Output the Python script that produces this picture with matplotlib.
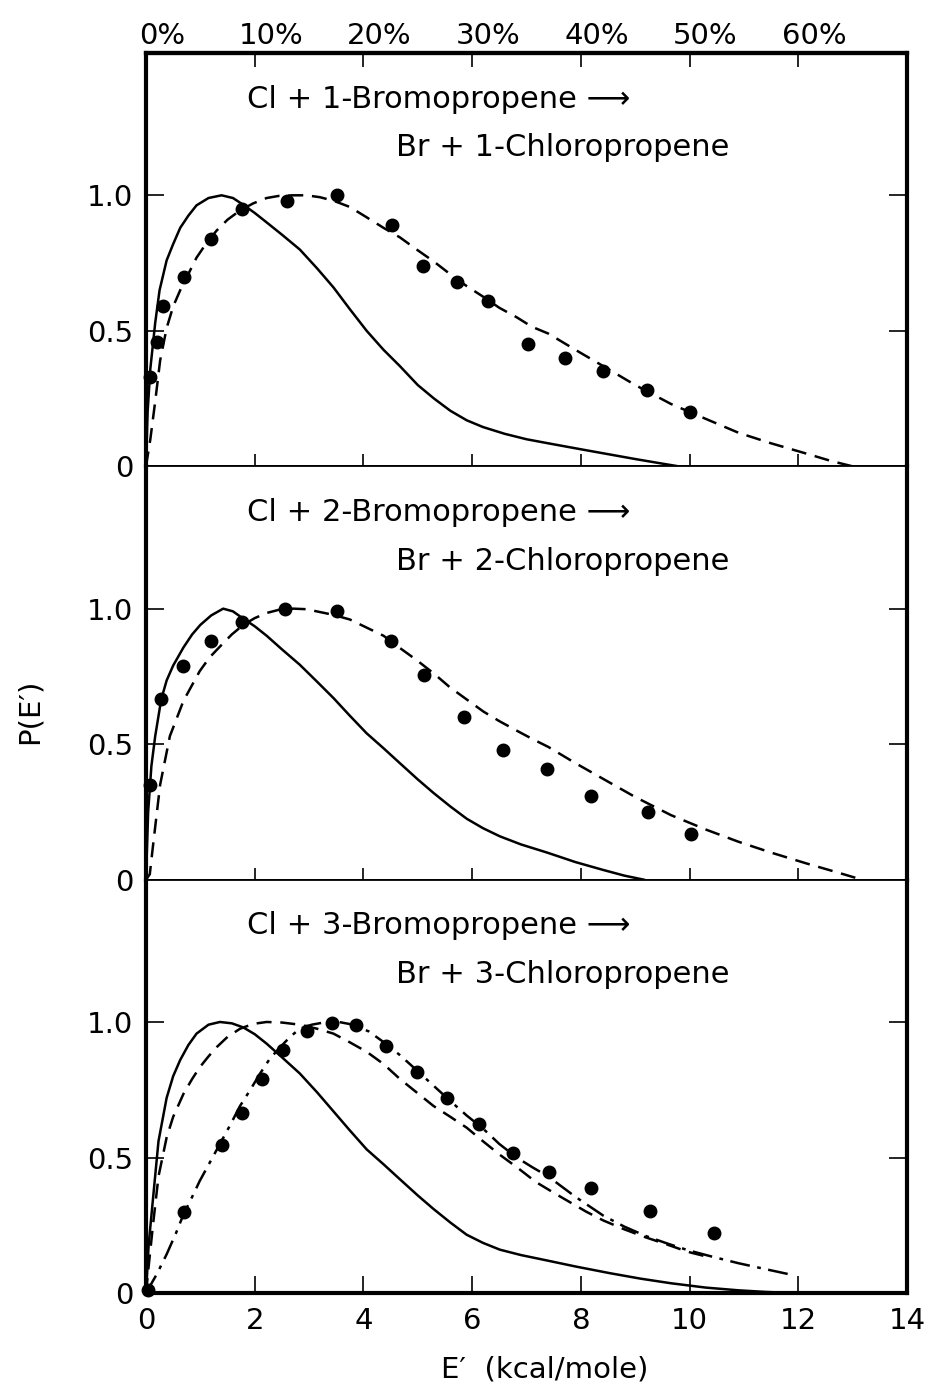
import matplotlib.pyplot as plt
from matplotlib.transforms import ScaledTranslation

# ---- data ----
# panel 1: Cl + 1-bromopropene
e1_pts = [0.07, 0.20, 0.32, 0.70, 1.19, 1.77, 2.59, 3.51, 4.52, 5.10, 5.73, 6.30, 7.03, 7.71, 8.40, 9.22, 10.01]
p1_pts = [0.33, 0.46, 0.59, 0.70, 0.84, 0.95, 0.98, 1.00, 0.89, 0.74, 0.68, 0.61, 0.45, 0.40, 0.35, 0.28, 0.20]
e1_solid = [0, 0.03, 0.08, 0.17, 0.25, 0.38, 0.5, 0.63, 0.78, 0.93, 1.15, 1.39, 1.6, 1.79, 2.0, 2.22, 2.5,
            2.83, 3.15, 3.45, 3.75, 4.06, 4.37, 4.67, 5.0, 5.3, 5.6, 5.9, 6.2, 6.6, 7.0, 7.4, 8.0, 8.5,
            9.0, 9.5, 9.8]
p1_solid = [0, 0.20, 0.36, 0.53, 0.65, 0.76, 0.82, 0.88, 0.925, 0.963, 0.99, 1.0, 0.99, 0.965, 0.935, 0.90,
            0.855, 0.80, 0.73, 0.66, 0.58, 0.50, 0.43, 0.37, 0.30, 0.25, 0.205, 0.17, 0.145, 0.12, 0.10,
            0.085, 0.063, 0.045, 0.027, 0.01, 0]
e1_dash = [0, 0.08, 0.17, 0.26, 0.38, 0.5, 0.63, 0.78, 0.93, 1.1, 1.30, 1.5, 1.73, 1.97, 2.22, 2.45, 2.7,
           2.95, 3.2, 3.45, 3.75, 4.05, 4.37, 4.67, 4.98, 5.3, 5.59, 5.9, 6.21, 6.5, 6.82, 7.1, 7.40, 7.9,
           8.41, 9.0, 9.66, 10.3, 10.9, 11.5, 12.15, 12.6, 13.0]
p1_dash = [0, 0.10, 0.24, 0.39, 0.51, 0.59, 0.65, 0.71, 0.77, 0.82, 0.87, 0.91, 0.944, 0.97, 0.99, 0.998,
           1.0, 1.0, 0.993, 0.98, 0.957, 0.92, 0.88, 0.845, 0.80, 0.755, 0.71, 0.665, 0.625, 0.585, 0.55,
           0.515, 0.49, 0.43, 0.37, 0.30, 0.23, 0.175, 0.124, 0.085, 0.047, 0.02, 0]

# panel 2: Cl + 2-bromopropene
e2_pts = [0.07, 0.28, 0.69, 1.20, 1.76, 2.55, 3.51, 4.51, 5.12, 5.85, 6.56, 7.37, 8.18, 9.24, 10.03]
p2_pts = [0.35, 0.665, 0.79, 0.88, 0.95, 1.0, 0.99, 0.88, 0.755, 0.60, 0.48, 0.41, 0.31, 0.25, 0.17]
e2_solid = [0, 0.04, 0.10, 0.17, 0.28, 0.38, 0.5, 0.69, 0.85, 1.0, 1.2, 1.42, 1.6, 1.79, 2.0, 2.22, 2.5,
            2.83, 3.15, 3.45, 3.75, 4.06, 4.37, 4.67, 5.0, 5.29, 5.6, 5.90, 6.2, 6.51, 6.9, 7.38, 7.9,
            8.41, 8.8, 9.16]
p2_solid = [0, 0.25, 0.42, 0.53, 0.665, 0.735, 0.79, 0.857, 0.905, 0.94, 0.975, 1.0, 0.99, 0.963, 0.935,
            0.90, 0.85, 0.793, 0.73, 0.67, 0.605, 0.54, 0.485, 0.43, 0.37, 0.32, 0.27, 0.225, 0.19, 0.16,
            0.13, 0.10, 0.065, 0.036, 0.015, 0]
e2_dash = [0, 0.07, 0.13, 0.26, 0.44, 0.69, 0.99, 1.17, 1.36, 1.58, 1.79, 2.0, 2.22, 2.45, 2.71, 2.95,
           3.14, 3.45, 3.75, 4.06, 4.37, 4.67, 4.98, 5.3, 5.59, 5.9, 6.21, 6.5, 6.82, 7.1, 7.40, 7.9, 8.41,
           9.0, 9.66, 10.3, 10.9, 11.5, 12.15, 12.7, 13.17]
p2_dash = [0, 0.02, 0.127, 0.35, 0.53, 0.66, 0.77, 0.82, 0.86, 0.905, 0.94, 0.965, 0.984, 0.996, 1.0,
           0.998, 0.99, 0.977, 0.96, 0.93, 0.90, 0.855, 0.81, 0.76, 0.71, 0.665, 0.62, 0.585, 0.55, 0.52,
           0.49, 0.43, 0.372, 0.305, 0.238, 0.185, 0.14, 0.10, 0.06, 0.028, 0]

# panel 3: Cl + 3-bromopropene
e3_pts = [0.03, 0.70, 1.40, 1.77, 2.13, 2.52, 2.96, 3.42, 3.86, 4.41, 4.98, 5.54, 6.13, 6.76, 7.42, 8.19, 9.27, 10.45]
p3_pts = [0.01, 0.30, 0.545, 0.665, 0.79, 0.895, 0.965, 0.997, 0.988, 0.91, 0.815, 0.72, 0.625, 0.518, 0.445, 0.388, 0.302, 0.222]
e3_solid = [0, 0.05, 0.13, 0.23, 0.38, 0.5, 0.63, 0.78, 0.93, 1.15, 1.36, 1.58, 1.79, 2.0, 2.22, 2.5, 2.83,
            3.15, 3.45, 3.75, 4.06, 4.37, 4.67, 5.0, 5.29, 5.6, 5.90, 6.2, 6.51, 6.9, 7.38, 7.9, 8.54, 9.1,
            9.66, 10.3, 10.9, 11.4, 11.9]
p3_solid = [0, 0.18, 0.35, 0.56, 0.72, 0.80, 0.86, 0.915, 0.957, 0.99, 1.0, 0.995, 0.98, 0.955, 0.92, 0.87,
            0.81, 0.74, 0.67, 0.60, 0.53, 0.475, 0.42, 0.36, 0.31, 0.26, 0.215, 0.185, 0.16, 0.14, 0.12,
            0.098, 0.073, 0.053, 0.036, 0.02, 0.01, 0.004, 0]
e3_dash = [0, 0.05, 0.13, 0.23, 0.38, 0.5, 0.69, 0.85, 0.99, 1.15, 1.30, 1.5, 1.73, 1.97, 2.22, 2.5, 2.83,
           3.15, 3.45, 3.75, 4.06, 4.37, 4.67, 4.98, 5.29, 5.6, 5.90, 6.2, 6.51, 6.85, 7.17, 7.50, 7.80, 8.1,
           8.41, 8.8, 9.2, 9.6, 9.97, 10.4]
p3_dash = [0, 0.10, 0.253, 0.43, 0.574, 0.65, 0.735, 0.79, 0.833, 0.873, 0.907, 0.945, 0.975, 0.993, 1.0,
           0.998, 0.99, 0.975, 0.957, 0.925, 0.89, 0.845, 0.79, 0.74, 0.69, 0.65, 0.61, 0.56, 0.51, 0.46,
           0.41, 0.37, 0.335, 0.30, 0.268, 0.235, 0.205, 0.178, 0.152, 0.13]
e3_dd = [0, 0.2, 0.38, 0.55, 0.69, 0.85, 0.99, 1.17, 1.36, 1.55, 1.73, 1.92, 2.10, 2.28, 2.47, 2.65, 2.83,
         3.05, 3.32, 3.55, 3.81, 4.1, 4.37, 4.67, 4.98, 5.29, 5.59, 5.9, 6.21, 6.5, 6.82, 7.10, 7.40, 7.9,
         8.41, 8.8, 9.2, 9.6, 9.97, 10.4, 10.9, 11.4, 11.93]
p3_dd = [0, 0.07, 0.143, 0.22, 0.29, 0.355, 0.414, 0.48, 0.55, 0.62, 0.69, 0.75, 0.81, 0.865, 0.907, 0.945,
         0.975, 0.99, 1.0, 1.0, 0.99, 0.965, 0.926, 0.878, 0.822, 0.765, 0.71, 0.655, 0.605, 0.55, 0.50,
         0.465, 0.43, 0.355, 0.286, 0.245, 0.21, 0.182, 0.158, 0.135, 0.11, 0.088, 0.065]

titles = [("Cl + 1-Bromopropene \u27f6", "Br + 1-Chloropropene"),
          ("Cl + 2-Bromopropene \u27f6", "Br + 2-Chloropropene"),
          ("Cl + 3-Bromopropene \u27f6", "Br + 3-Chloropropene")]
bottom_ticks = [0, 2, 4, 6, 8, 10, 12, 14]
top_ticks = [0, 2, 4, 6, 8, 10, 12]
top_labels = ["0%", "10%", "20%", "30%", "40%", "50%", "60%"]
y_ticks = [0, 0.5, 1.0]
y_labels = ["0", "0.5", "1.0"]

fs = 21
dash = (0, (6, 3.5))
dashdot = (0, (8, 3, 1.5, 3))

fig = plt.figure(figsize=(9.31, 13.95), dpi=100)
axs = fig.subplots(3, 1, sharex=True, gridspec_kw=dict(hspace=0))
fig.subplots_adjust(left=0.1568, right=0.9742, bottom=0.0731, top=0.962)

panels = [
    (e1_pts, p1_pts, [(e1_solid, p1_solid, "-"), (e1_dash, p1_dash, dash)]),
    (e2_pts, p2_pts, [(e2_solid, p2_solid, "-"), (e2_dash, p2_dash, dash)]),
    (e3_pts, p3_pts, [(e3_solid, p3_solid, "-"), (e3_dash, p3_dash, dash), (e3_dd, p3_dd, dashdot)]),
]

for i, (ax, (ep, pp, curves)) in enumerate(zip(axs, panels)):
    for ec, pc, ls in curves:
        ax.plot(ec, pc, color="black", lw=1.8, linestyle=ls)
    ax.plot(ep, pp, "o", color="black", ms=9, clip_on=False, zorder=5)
    ax.set_xlim(0, 14)
    ax.set_ylim(0, 1.525)
    ax.set_yticks(y_ticks)
    ax.set_yticklabels(y_labels, fontsize=fs)
    ax.tick_params(axis="y", direction="in", length=13, width=1.2, pad=9,
                   left=True, right=True)
    ax.tick_params(axis="x", direction="in", length=9, width=1.2)
    for s in ["left", "right"]:
        ax.spines[s].set_linewidth(3)
    ax.spines["top"].set_linewidth(1.3)
    ax.spines["bottom"].set_linewidth(1.3)
    t1, t2 = titles[i]
    ax.text(1.85, 1.355, t1, fontsize=22, va="center", ha="left")
    ax.text(4.6, 1.175, t2, fontsize=22, va="center", ha="left")

axs[0].spines["top"].set_linewidth(3)
axs[2].spines["bottom"].set_linewidth(3)
axs[2].set_xticks(bottom_ticks)
axs[2].set_xticklabels([str(t) for t in bottom_ticks], fontsize=fs)
axs[2].tick_params(axis="x", direction="in", length=12, pad=10)

sec = axs[0].secondary_xaxis("top")
sec.set_xticks(top_ticks)
sec.set_xticklabels(top_labels, fontsize=fs)
sec.tick_params(direction="in", length=10, width=1.2, pad=2)
sec.spines["top"].set_linewidth(3)
for lbl in sec.get_xticklabels():
    lbl.set_transform(lbl.get_transform() + ScaledTranslation(0.16, 0, fig.dpi_scale_trans))

fig.text(0.032, 0.49, "P(E\u2032)", rotation=90, fontsize=fs, va="center", ha="center")
fig.text(0.585, 0.018, "E\u2032  (kcal/mole)", fontsize=fs, va="center", ha="center")

fig.savefig("out.png", dpi=100)
